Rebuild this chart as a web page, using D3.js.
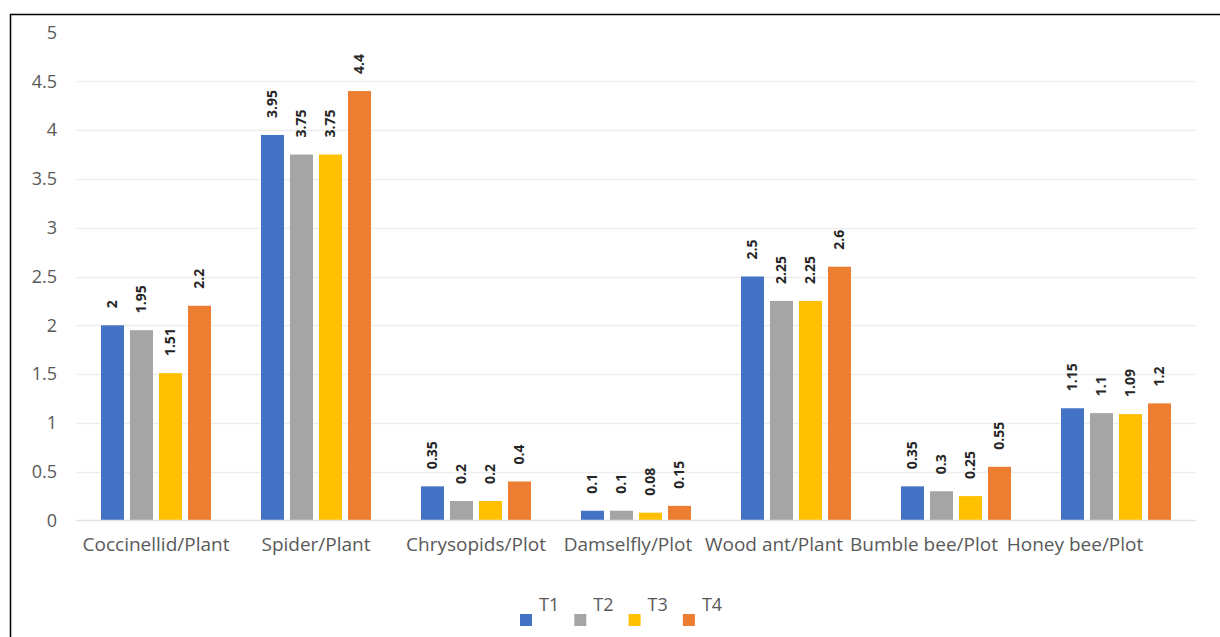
<!DOCTYPE html>
<html><head><meta charset="utf-8">
<script src="https://cdn.jsdelivr.net/npm/d3@7"></script>
<style>body{margin:0;background:#fff;} svg{display:block;}</style>
</head><body>
<script>
const categories = ["Coccinellid/Plant","Spider/Plant","Chrysopids/Plot","Damselfly/Plot","Wood ant/Plant","Bumble bee/Plot","Honey bee/Plot"];
const seriesNames = ["T1","T2","T3","T4"];
const T1 = [2, 3.95, 0.35, 0.1, 2.5, 0.35, 1.15];
const T2 = [1.95, 3.75, 0.2, 0.1, 2.25, 0.3, 1.1];
const T3 = [1.51, 3.75, 0.2, 0.08, 2.25, 0.25, 1.09];
const T4 = [2.2, 4.4, 0.4, 0.15, 2.6, 0.55, 1.2];
const seriesValues = [T1, T2, T3, T4];
const colors = ["#4472C4", "#A5A5A5", "#FFC000", "#ED7D31"];
const yTicks = [0, 0.5, 1, 1.5, 2, 2.5, 3, 3.5, 4, 4.5, 5];

const W = 1220, H = 637;
const svg = d3.select("body").append("svg").attr("width", W).attr("height", H);
const font = "'Open Sans', 'Liberation Sans', sans-serif";

// outer frame (top and left edges visible)
svg.append("path").attr("d", `M10.5,${H} L10.5,14.5 L${W},14.5`).attr("fill","none").attr("stroke","#000").attr("stroke-width",1.5);

const x0 = 76, x1 = 1196;
const y = d3.scaleLinear().domain([0, 5]).range([520.5, 32.5]);
const xBand = d3.scaleBand().domain(categories).range([x0, x1]).paddingInner(0).paddingOuter(0);
const xSub = d3.scaleBand().domain(seriesNames).range([0, xBand.bandwidth()*0.6875]).paddingInner(0.207).paddingOuter(0);
const groupOffset = (xBand.bandwidth() - xSub.range()[1]) / 2;

// gridlines
svg.append("g").selectAll("line").data(yTicks.filter(d => d > 0 && d < 5)).join("line")
  .attr("x1", x0).attr("x2", x1)
  .attr("y1", d => Math.round(y(d)) + 0.5).attr("y2", d => Math.round(y(d)) + 0.5)
  .attr("stroke", "#EDEDED").attr("stroke-width", 1.5);

// y axis labels
const yAxis = d3.axisLeft(y).tickValues(yTicks).tickSize(0).tickPadding(0).tickFormat(d => String(d));
const yg = svg.append("g").attr("transform", "translate(57,0)").call(yAxis);
yg.select(".domain").remove();
yg.selectAll("text").attr("font-family", font).attr("font-size", 18).attr("fill", "#595959");

// bars
const groups = svg.append("g").selectAll("g").data(seriesNames).join("g").attr("fill", (d, i) => colors[i]);
groups.each(function(s, si) {
  const g = d3.select(this);
  const vals = seriesValues[si];
  g.selectAll("rect").data(categories).join("rect")
    .attr("x", (c) => xBand(c) + groupOffset + xSub(s))
    .attr("width", xSub.bandwidth())
    .attr("y", (c, ci) => y(vals[ci]))
    .attr("height", (c, ci) => y(0) - y(vals[ci]));
  g.selectAll("text").data(categories).join("text")
    .attr("transform", (c, ci) => `translate(${xBand(c) + groupOffset + xSub(s) + xSub.bandwidth()/2},${y(vals[ci]) - 17}) rotate(-90)`)
    .attr("font-family", font).attr("font-size", 14).attr("font-weight", "bold").attr("fill", "#262626")
    .attr("text-anchor", "start").attr("dy", "0.35em")
    .text((c, ci) => String(vals[ci]));
});

// baseline
svg.append("line").attr("x1", x0).attr("x2", x1).attr("y1", 520.5).attr("y2", 520.5).attr("stroke", "#E3E3E3").attr("stroke-width", 1.5);

// x category labels (long labels packed leftwards as in the source)
const labelShift = [0, 0, 0, -8, -22, -32, -41];
const xAxis = d3.axisBottom(xBand).tickSize(0).tickPadding(0);
const xg = svg.append("g").attr("transform", "translate(0,537)").call(xAxis);
xg.select(".domain").remove();
xg.selectAll("text").attr("font-family", font).attr("font-size", 19).attr("fill", "#595959")
  .attr("dx", (d, i) => labelShift[i]);

// legend
const leg = svg.append("g").selectAll("g").data(seriesNames).join("g")
  .attr("transform", (d, i) => `translate(${520 + i*54.3},0)`);
leg.append("rect").attr("x", 0).attr("y", 614).attr("width", 12).attr("height", 12).attr("fill", (d, i) => colors[i]);
leg.append("text").attr("x", 19).attr("y", 611).attr("font-family", font).attr("font-size", 18).attr("fill", "#595959").text(d => d);
</script>
</body></html>
